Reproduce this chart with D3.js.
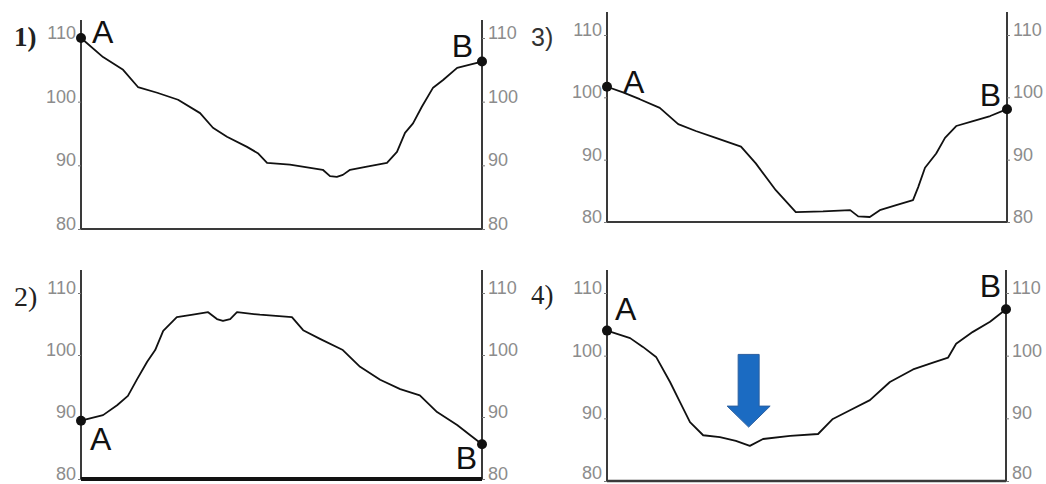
<!DOCTYPE html>
<html><head><meta charset="utf-8">
<script src="https://cdn.jsdelivr.net/npm/d3@7/dist/d3.min.js"></script>
<style>
html,body{margin:0;padding:0;background:#fff;}
svg{display:block;}
.tick text{font-family:"Liberation Sans Narrow","Liberation Sans",Arial,sans-serif;font-size:18px;fill:#8c8c8c;}
.tick line{stroke:#777;}
</style></head>
<body>
<svg id="c" width="1046" height="484"></svg>
<script>
// ---- data: distance along profile (% of A→B) and elevation ----
const tickValues = [80, 90, 100, 110];
const panelLabels = ["1)", "2)", "3)", "4)"];

const dist1 = [0,5.5,10.5,14.2,19,24.2,29.7,32.9,36.4,41.4,44.1,46.4,52.1,60.3,62.1,63.8,65.3,67.1,71.3,76.3,78.8,80.8,82.8,85,87.8,90.3,93.8,97,100];
const elev1 = [110,107,105,102.3,101.4,100.3,98.2,95.9,94.5,92.9,91.9,90.4,90.1,89.3,88.3,88.2,88.5,89.3,89.8,90.4,92.1,95.1,96.6,99.2,102.2,103.4,105.3,105.8,106.3];

const dist2 = [0,5.5,9,11.7,14,16.5,18.5,20.5,23.9,27.9,31.7,33.9,35.4,37.2,38.9,44.6,52.6,55.4,59.6,65.3,69.6,74.6,79.6,84.5,88.8,93.8,97,100];
const elev2 = [89.4,90.3,91.9,93.4,96.1,98.9,100.8,103.9,106.1,106.5,106.9,105.8,105.5,105.8,106.9,106.5,106.1,104,102.6,100.8,98.1,96,94.5,93.5,90.8,88.7,87.1,85.6];

const dist3 = [0,4,8.2,13.2,17.8,22.2,27.2,33.5,37.2,42.2,47.2,54,60.8,62.8,65.7,68.2,72.3,76.5,77.8,79.5,82.3,84.5,87.3,91.5,95.8,100];
const elev3 = [101.7,100.8,99.7,98.3,95.7,94.6,93.5,92.1,89.4,85.1,81.6,81.7,81.9,80.9,80.8,81.9,82.7,83.5,85.6,88.7,91,93.5,95.4,96.2,97,98.1];

const dist4 = [0,5.8,9,12.3,15.8,18.3,20.8,24.1,28.3,32.3,35.8,39.1,45.9,52.9,56.6,60.9,65.9,70.9,76.7,81.7,85.5,87.5,91.7,96,100];
const elev4 = [104,102.8,101.4,99.8,95.8,92.6,89.4,87.3,87,86.4,85.6,86.7,87.2,87.5,89.9,91.3,92.9,95.8,97.8,98.9,99.7,101.9,103.8,105.4,107.4];

const arrowAt = {panel: 3, dist: 35.5, elevTop: 100.2, elevTip: 88.6};

// ---- layout (positions/styles) ----
const panels = [
  {d:dist1, e:elev1, left:81,  right:482,  top:20,  bottom:229, y110:38,  labFont:"Liberation Serif", labX:14, labY:46, labSize:27, labW:"bold",
   A:[11,5,"start"], B:[-9,-5,"end"], base:1.8},
  {d:dist2, e:elev2, left:81,  right:482,  top:270, bottom:479, y110:293, labFont:"Liberation Serif", labX:14, labY:306, labSize:28, labW:"normal",
   A:[9,29,"start"], B:[-5,25,"end"], base:4},
  {d:dist3, e:elev3, left:607, right:1007, top:12,  bottom:222, y110:35,  labFont:"Liberation Sans", labX:531, labY:46, labSize:25, labW:"normal",
   A:[16,6,"start"], B:[-6,-3,"end"], base:1.8},
  {d:dist4, e:elev4, left:607, right:1006, top:270, bottom:481, y110:293, labFont:"Liberation Serif", labX:531, labY:304, labSize:27, labW:"normal",
   A:[8,-11,"start"], B:[-5,-12,"end"], base:2.5}
];

const svg = d3.select("#c");

panels.forEach((p, i) => {
  const x = d3.scaleLinear().domain([0,100]).range([p.left, p.right]);
  const y = d3.scaleLinear().domain([80,110]).range([p.bottom, p.y110]);
  const g = svg.append("g");

  // axes lines
  g.append("line").attr("x1",p.left).attr("x2",p.left).attr("y1",p.top).attr("y2",p.bottom)
    .attr("stroke","#3a3a3a").attr("stroke-width",2);
  g.append("line").attr("x1",p.right).attr("x2",p.right).attr("y1",p.top).attr("y2",p.bottom)
    .attr("stroke","#3a3a3a").attr("stroke-width",2);
  g.append("line").attr("x1",p.left).attr("x2",p.right).attr("y1",p.bottom).attr("y2",p.bottom)
    .attr("stroke", p.base>3 ? "#111" : "#3a3a3a").attr("stroke-width",p.base);

  const dyFor = v => (p.bottom > 480 && v === 80) ? "-0.12em" : "0.02em";

  const la = g.append("g").attr("transform",`translate(${p.left},0)`)
    .call(d3.axisLeft(y).tickValues(tickValues).tickSize(3).tickPadding(2));
  la.select(".domain").remove();
  la.selectAll(".tick text").attr("dy", d => dyFor(d));

  const ra = g.append("g").attr("transform",`translate(${p.right},0)`)
    .call(d3.axisRight(y).tickValues(tickValues).tickSize(3).tickPadding(3));
  ra.select(".domain").remove();
  ra.selectAll(".tick text").attr("dy", d => dyFor(d));

  // profile line
  const pts = p.d.map((v,k)=>[v,p.e[k]]);
  g.append("path").datum(pts)
    .attr("d", d3.line().x(d=>x(d[0])).y(d=>y(d[1])))
    .attr("fill","none").attr("stroke","#111").attr("stroke-width",1.8).attr("stroke-linejoin","round");

  // endpoints
  const ends = [pts[0], pts[pts.length-1]];
  g.selectAll("circle.end").data(ends).enter().append("circle")
    .attr("cx",d=>x(d[0])).attr("cy",d=>y(d[1])).attr("r",5).attr("fill","#111");

  // A / B labels
  [["A",ends[0],p.A],["B",ends[1],p.B]].forEach(([t,pt,o])=>{
    g.append("text").text(t)
      .attr("x",x(pt[0])+o[0]).attr("y",y(pt[1])+o[1]).attr("text-anchor",o[2])
      .attr("font-family","Liberation Sans, Arial, sans-serif").attr("font-size",32).attr("fill","#111");
  });

  // panel number
  g.append("text").text(panelLabels[i]).attr("x",p.labX).attr("y",p.labY)
    .attr("font-family",p.labFont).attr("font-size",p.labSize).attr("font-weight",p.labW)
    .attr("fill", i===2 ? "#333" : "#222");

  // arrow
  if (i === arrowAt.panel) {
    const cx = x(arrowAt.dist), yt = y(arrowAt.elevTop), yb = y(arrowAt.elevTip);
    const sw = 10.5, hw = 21.5, hh = 21;
    const path = d3.path();
    path.moveTo(cx-sw, yt); path.lineTo(cx+sw, yt); path.lineTo(cx+sw, yb-hh);
    path.lineTo(cx+hw, yb-hh); path.lineTo(cx, yb); path.lineTo(cx-hw, yb-hh);
    path.lineTo(cx-sw, yb-hh); path.closePath();
    g.append("path").attr("d", path.toString()).attr("fill","#1b6bc2").attr("stroke","#2c5f9e").attr("stroke-width",1);
  }
});
</script>
</body></html>
